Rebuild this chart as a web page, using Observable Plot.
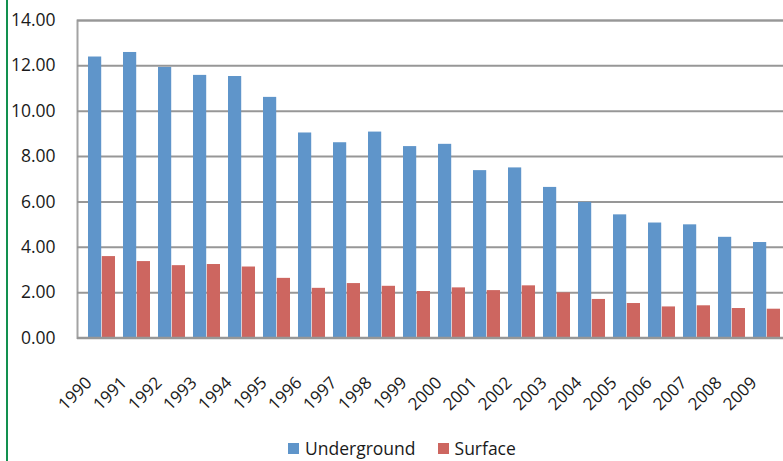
<!DOCTYPE html>
<html>
<head>
<meta charset="utf-8">
<script src="https://cdn.jsdelivr.net/npm/d3@7"></script>
<script src="https://cdn.jsdelivr.net/npm/@observablehq/plot@0.6"></script>
<style>
  html, body { margin: 0; padding: 0; background: #fff; overflow: hidden; }
  #wrap { position: relative; width: 783px; height: 461px; overflow: hidden; font-family: "Open Sans", sans-serif; }
  #edge { position: absolute; left: 6px; top: 0; width: 2.4px; height: 461px; background: #12904f; }
  #chart { position: absolute; left: 0; top: 0; }
  #legend { position: absolute; left: 288px; top: 436px; display: flex; align-items: center; font-size: 17.5px; color: #1a1a1a; white-space: nowrap; }
  .item { display: flex; align-items: center; margin-right: 22px; }
  .sw { width: 11px; height: 11px; margin-right: 6px; }
</style>
</head>
<body>
<div id="wrap">
  <div id="edge"></div>
  <div id="chart"></div>
  <div id="legend"></div>
</div>
<script>
const years = ["1990","1991","1992","1993","1994","1995","1996","1997","1998","1999",
               "2000","2001","2002","2003","2004","2005","2006","2007","2008","2009"];
const underground = [12.39, 12.59, 11.93, 11.58, 11.53, 10.61, 9.04, 8.61, 9.08, 8.44,
                     8.54, 7.38, 7.50, 6.64, 5.98, 5.43, 5.07, 4.99, 4.44, 4.21];
const surface = [3.59, 3.37, 3.19, 3.24, 3.13, 2.63, 2.19, 2.40, 2.28, 2.05,
                 2.21, 2.09, 2.30, 1.99, 1.70, 1.52, 1.37, 1.42, 1.30, 1.27];
const seriesNames = ["Underground", "Surface"];
const seriesColors = ["#5f95ca", "#cd6660"];
const yTicks = [0, 2, 4, 6, 8, 10, 12, 14];

const W = 783, H = 430, ML = 77, MR = -8, MT = 20, MB = 92.5;
const padInner = 0.227, padOuter = 0.1135;
const step = (W - ML - MR) / years.length;
const half = step * (1 - padInner) / 2;

const ug = years.map((year, i) => ({year, value: underground[i]}));
const sf = years.map((year, i) => ({year, value: surface[i]}));

const chart = Plot.plot({
  width: W, height: H,
  marginLeft: ML, marginRight: MR, marginTop: MT, marginBottom: MB,
  style: {fontFamily: "Open Sans, sans-serif", color: "#1a1a1a", background: "transparent", overflow: "visible"},
  x: {type: "band", domain: years, paddingInner: padInner, paddingOuter: padOuter, axis: null},
  y: {domain: [0, 14], axis: null},
  marks: [
    Plot.frame({stroke: "#a3a3a3", strokeWidth: 2}),
    Plot.ruleY(yTicks, {stroke: "#979797", strokeWidth: 2}),
    Plot.barY(ug, {x: "year", y: "value", fill: seriesColors[0], insetRight: half}),
    Plot.barY(sf, {x: "year", y: "value", fill: seriesColors[1], insetLeft: half}),
    Plot.ruleY([0], {stroke: "#979797", strokeWidth: 2.5}),
    Plot.axisY({ticks: yTicks, tickFormat: d3.format(".2f"), tickSize: 0, tickPadding: 22, label: null, fontSize: 17.5, fill: "#1a1a1a"}),
    Plot.axisX({tickRotate: -45, tickSize: 0, tickPadding: 42, dx: -13, label: null, fontSize: 17, fill: "#1a1a1a"})
  ]
});
document.getElementById("chart").appendChild(chart);

const legend = document.getElementById("legend");
seriesNames.forEach((name, i) => {
  const item = document.createElement("div");
  item.className = "item";
  const sw = document.createElement("div");
  sw.className = "sw";
  sw.style.background = seriesColors[i];
  const t = document.createElement("span");
  t.textContent = name;
  item.appendChild(sw);
  item.appendChild(t);
  legend.appendChild(item);
});
</script>
</body>
</html>
